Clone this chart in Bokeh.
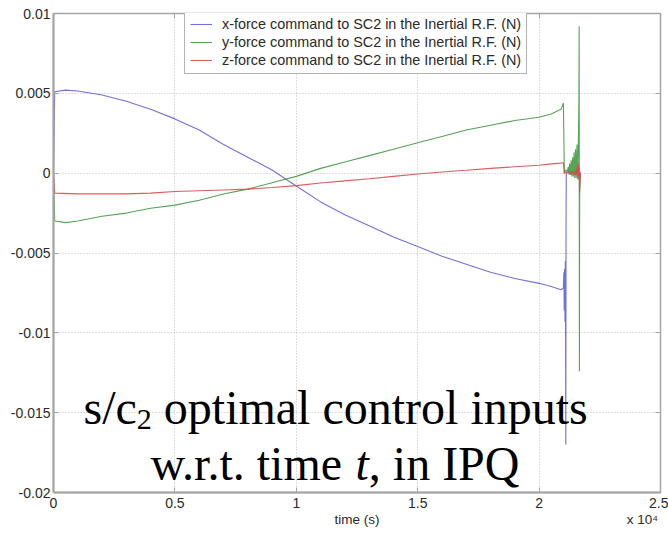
from bokeh.plotting import figure
from bokeh.models import Range1d, LinearAxis, FixedTicker, Label, Legend, LegendItem
from bokeh.embed import file_html
from bokeh.resources import INLINE

# ---- data (time in s, force in N) ----
t_x = [0, 50, 500, 1000, 2000, 3000, 4000, 5000, 6000, 7000, 8000, 9000, 10000,
       11000, 12000, 13000, 14000, 15000, 16000, 17000, 18000, 19000, 20000, 20500,
       20900, 21000, 21020, 21035, 21050, 21065, 21080, 21090, 21100, 21110, 21120,
       21300, 21500, 21620, 21650, 21680, 21700]
fx = [0, 0.0051, 0.0052, 0.00515, 0.0049, 0.0045, 0.0040, 0.0034, 0.0027, 0.0018,
      0.0010, 0.0002, -0.0008, -0.0018, -0.0026, -0.0033, -0.0040, -0.0046, -0.0052,
      -0.0057, -0.0062, -0.0066, -0.0069, -0.0071, -0.0073, -0.0072, -0.0062, -0.0086,
      -0.0060, -0.0093, -0.0055, -0.0098, -0.0170, -0.0025, 0.0, 0.0001, -0.0001,
      0.0002, -0.0004, 0.0001, 0.0]

t_y = [0, 50, 500, 1000, 2000, 3000, 4000, 5000, 6000, 7000, 8000, 9000, 10000,
       11000, 12000, 13000, 14000, 15000, 16000, 17000, 18000, 19000, 20000, 20500,
       20900, 20960, 21000, 21040, 21100, 21160, 21200, 21230, 21260, 21290, 21320,
       21350, 21380, 21410, 21440, 21470, 21500, 21530, 21560, 21590, 21620, 21640,
       21650, 21660, 21670, 21690]
fy = [0, -0.0030, -0.0031, -0.0030, -0.0027, -0.0025, -0.0022, -0.0020, -0.0017,
      -0.0013, -0.0010, -0.0006, -0.0002, 0.0003, 0.0007, 0.0011, 0.0015, 0.0019,
      0.0023, 0.0027, 0.0030, 0.0033, 0.0035, 0.0037, 0.0040, 0.0042, 0.0044, 0.0,
      0.0002, 0.0001, 0.0004, -0.0001, 0.0006, -0.0001, 0.0008, -0.0002, 0.0010,
      -0.0002, 0.0013, -0.0003, 0.0015, -0.0003, 0.0018, -0.0004, 0.0022, 0.0047,
      0.0092, -0.0124, -0.0015, 0.0]

t_z = [0, 50, 1000, 2000, 3000, 4000, 5000, 6000, 7000, 8000, 9000, 10000, 11000,
       12000, 13000, 14000, 15000, 16000, 17000, 18000, 19000, 20000, 20500, 20900,
       21000, 21040, 21200, 21300, 21400, 21450, 21500, 21530, 21560, 21590, 21620,
       21640, 21655, 21665, 21680, 21700]
fz = [0, -0.00125, -0.0013, -0.0013, -0.0013, -0.00125, -0.00115, -0.0011, -0.00105,
      -0.0010, -0.0009, -0.00078, -0.00062, -0.00048, -0.00035, -0.0002, -0.00005,
      0.00007, 0.00018, 0.0003, 0.0004, 0.0005, 0.00058, 0.00063, 0.00065, 0.0,
      0.0001, -0.0001, 0.0001, -0.0001, 0.0002, -0.0001, 0.0004, -0.0002, 0.0006,
      -0.0004, 0.0003, -0.0012, -0.0008, 0.0]

series_labels = ["x-force command to SC2 in the Inertial R.F. (N)",
                 "y-force command to SC2 in the Inertial R.F. (N)",
                 "z-force command to SC2 in the Inertial R.F. (N)"]

x_ticks = [0, 5000, 10000, 15000, 20000, 25000]
x_tick_labels = ["0", "0.5", "1", "1.5", "2", "2.5"]
y_ticks = [0.01, 0.005, 0, -0.005, -0.01, -0.015, -0.02]
y_tick_labels = ["0.01", "0.005", "0", "-0.005", "-0.01", "-0.015", "-0.02"]
x_title = "time (s)"
x_scale_note = "x 10\u2074"

# ---- figure ----
X0, X1, Y0, Y1 = 0, 25000, -0.02, 0.01
p = figure(width=668, height=534, output_backend="svg", toolbar_location=None,
           x_range=Range1d(X0, X1), y_range=Range1d(Y0, Y1),
           min_border_left=53, min_border_right=8, min_border_top=13,
           min_border_bottom=42, background_fill_color="white",
           border_fill_color="white")

AX = "#a4a4a4"
TXT = "#2a2a2a"
FONT = "Liberation Sans"

p.outline_line_color = AX
p.outline_line_width = 1.5

for ax in (p.xaxis[0], p.yaxis[0]):
    ax.axis_line_color = AX
    ax.axis_line_width = 2
    ax.major_tick_line_color = AX
    ax.major_tick_in = 5
    ax.major_tick_out = 0
    ax.minor_tick_line_color = None
    ax.major_label_text_font = FONT
    ax.major_label_text_font_size = "14px"
    ax.major_label_text_color = TXT

p.xaxis[0].ticker = FixedTicker(ticks=x_ticks)
p.xaxis[0].major_label_overrides = dict(zip(x_ticks, x_tick_labels))
p.xaxis[0].major_label_standoff = 5

p.yaxis[0].ticker = FixedTicker(ticks=y_ticks)
p.yaxis[0].major_label_overrides = dict(zip(y_ticks, y_tick_labels))
p.yaxis[0].major_label_standoff = 3

# second row under the x axis: axis title (centred) and the x 10^4 scale note
note_ticks = [(X0 + X1) / 2, X0 + (642 - 53) / 607 * (X1 - X0)]
b_ax = LinearAxis(ticker=FixedTicker(ticks=note_ticks),
                  major_label_overrides=dict(zip(note_ticks, [x_title, x_scale_note])),
                  major_label_text_font=FONT, major_label_text_font_size="13.5px",
                  major_label_text_color=TXT, major_label_standoff=1,
                  axis_line_color=None, major_tick_line_color=None,
                  major_tick_in=0, major_tick_out=0, minor_tick_line_color=None)
p.add_layout(b_ax, "below")

# box ticks on right and top
r_ax = LinearAxis(ticker=FixedTicker(ticks=y_ticks),
                  major_label_overrides={v: "" for v in y_ticks},
                  major_label_text_font_size="1px", major_label_standoff=0,
                  axis_line_color=None, major_tick_line_color=AX,
                  major_tick_in=5, major_tick_out=0, minor_tick_line_color=None)
t_ax = LinearAxis(ticker=FixedTicker(ticks=x_ticks),
                  major_label_overrides={v: "" for v in x_ticks},
                  major_label_text_font_size="1px", major_label_standoff=0,
                  axis_line_color=None, major_tick_line_color=AX,
                  major_tick_in=5, major_tick_out=0, minor_tick_line_color=None)
p.add_layout(r_ax, "right")
p.add_layout(t_ax, "above")

p.xgrid.ticker = FixedTicker(ticks=x_ticks)
p.ygrid.ticker = FixedTicker(ticks=y_ticks)
for g in (p.xgrid[0], p.ygrid[0]):
    g.grid_line_color = "#bdbdbd"
    g.grid_line_dash = "1 2"
    g.grid_line_width = 1

# ---- lines ----
rx = p.line(t_x, fx, line_color="#6262d6", line_width=1.1, line_alpha=0.9)
ry = p.line(t_y, fy, line_color="#449a44", line_width=1.1, line_alpha=0.9)
rz = p.line(t_z, fz, line_color="#da4a4a", line_width=1.1, line_alpha=0.9)

legend = Legend(items=[LegendItem(label=series_labels[0], renderers=[rx]),
                       LegendItem(label=series_labels[1], renderers=[ry]),
                       LegendItem(label=series_labels[2], renderers=[rz])],
                location=(131, 418), padding=5, spacing=2, margin=0,
                glyph_width=22, glyph_height=14, label_height=14,
                label_standoff=10, label_text_font=FONT,
                label_text_font_size="14.4px", label_text_color=TXT,
                border_line_color="#6a6a6a", border_line_width=1,
                background_fill_color="white", background_fill_alpha=1)
p.add_layout(legend, "center")

# ---- big caption (page px -> data coordinates) ----
def dx(px):
    return X0 + (px - 53) / 607 * (X1 - X0)

def dy(py):
    return Y1 - (py - 13) / 479 * (Y1 - Y0)

SERIF = "Liberation Serif"
def lab(txt, px, py, size, style="normal"):
    p.add_layout(Label(x=dx(px), y=dy(py), text=txt, text_font=SERIF,
                       text_font_size=size, text_font_style=style,
                       text_color="black", text_align="left",
                       text_baseline="alphabetic"))

lab("s/c", 83, 407, "48px")
lab("2", 136.3, 419, "30px")
lab("optimal control inputs", 163.3, 407, "48px")
lab("w.r.t. time", 150, 463, "48px")
lab("t", 355, 463, "48px", style="italic")
lab(", in IPQ", 368.3, 463, "48px")

open("out.html", "w").write(file_html(p, INLINE))
